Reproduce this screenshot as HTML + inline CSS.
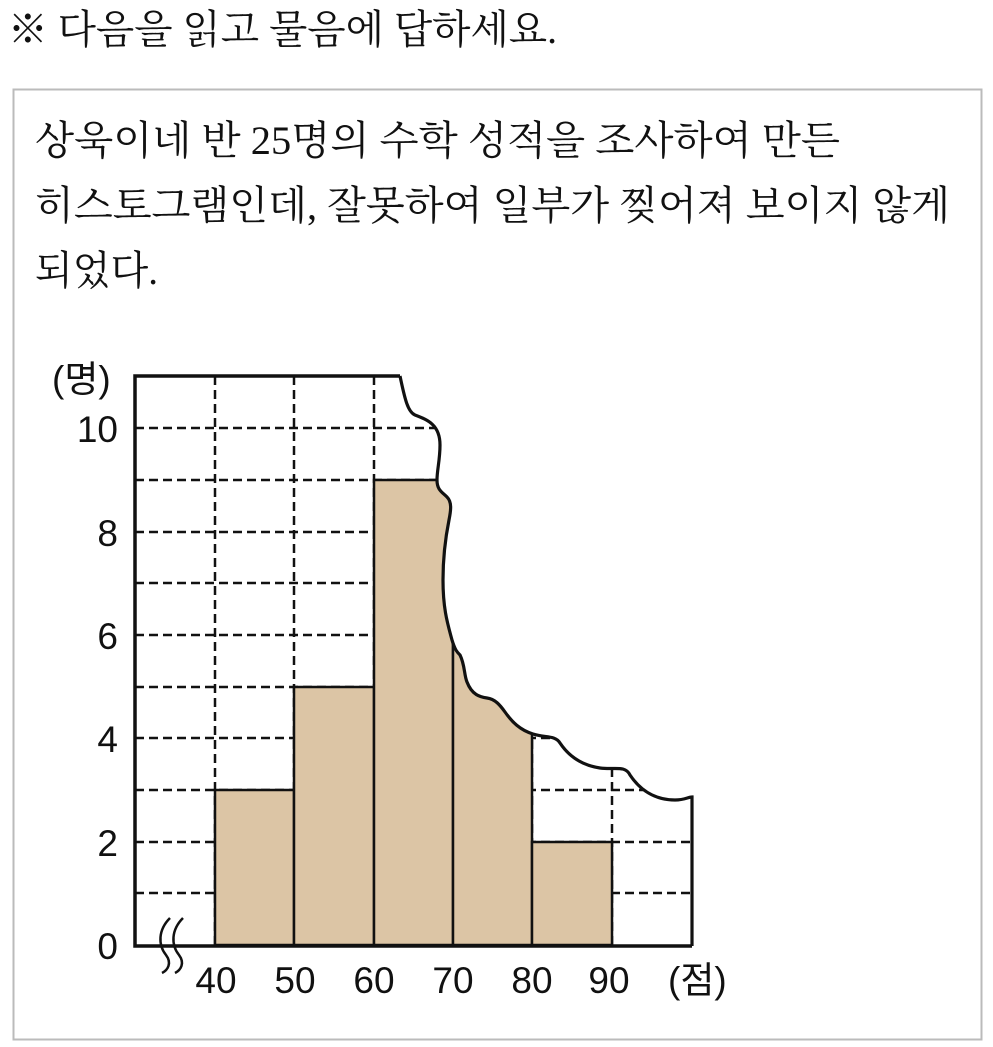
<!DOCTYPE html>
<html><head><meta charset="utf-8"><style>
html,body{margin:0;padding:0;background:#fff;}
svg{display:block;}
.k{font-family:"Liberation Serif","Noto Serif CJK SC","Noto Serif CJK KR",serif;font-size:40px;fill:#111;}
.n{font-family:"Liberation Sans","Noto Sans CJK KR",sans-serif;font-size:37px;fill:#111;}
</style></head><body>
<svg width="993" height="1047" viewBox="0 0 993 1047" xmlns="http://www.w3.org/2000/svg">
<text class="k" x="8" y="43" textLength="549" lengthAdjust="spacingAndGlyphs">※ 다음을 읽고 물음에 답하세요.</text>
<rect x="13.5" y="89.5" width="968" height="950" fill="none" stroke="#bbb" stroke-width="2"/>
<text class="k" x="35" y="154" textLength="805" lengthAdjust="spacingAndGlyphs">상욱이네 반 25명의 수학 성적을 조사하여 만든</text>
<text class="k" x="35" y="219" textLength="915" lengthAdjust="spacingAndGlyphs">히스토그램인데, 잘못하여 일부가 찢어져 보이지 않게</text>
<text class="k" x="35" y="284" textLength="123" lengthAdjust="spacingAndGlyphs">되었다.</text>
<defs>
<clipPath id="c"><path d="M135,376 L400,376 C405,400 408,412 415,415 C428,420 440,425 440,445 C440,460 437,470 437,480 C437,490 442,492 447,497 C452,502 451,510 449,520 C446,535 443,555 443,580 C443,610 448,625 452,640 C455,650 457,652 460,655 C465,665 464,675 467,682 C472,695 480,697 487,698 C495,699 500,705 505,712 C512,722 520,730 533,734 C545,738 555,735 560,743 C568,755 580,765 600,768 C615,770 625,765 630,775 C640,790 655,800 675,800 C685,800 688,797 692,797 L692,945 L135,945 Z"/></clipPath>
</defs>
<g clip-path="url(#c)">
<g stroke="#111" stroke-width="2.5" stroke-dasharray="9,5" fill="none">
<path d="M135,893H692M135,842H692M135,790H692M135,738H692M135,687H692M135,635H692M135,583H692M135,532H692M135,480H692M135,428H692"/>
<path d="M215,376V945M294,376V945M374,376V945M453,376V945M532,376V945M612,376V945"/>
</g>
<g fill="#dcc5a5" stroke="#111" stroke-width="2.5">
<rect x="215" y="790" width="79" height="155"/>
<rect x="294" y="687" width="80" height="258"/>
<rect x="374" y="480" width="79" height="465"/>
<rect x="453" y="300" width="79" height="645"/>
<rect x="532" y="842" width="80" height="103"/>
</g>
</g>
<path d="M400,376 C405,400 408,412 415,415 C428,420 440,425 440,445 C440,460 437,470 437,480 C437,490 442,492 447,497 C452,502 451,510 449,520 C446,535 443,555 443,580 C443,610 448,625 452,640 C455,650 457,652 460,655 C465,665 464,675 467,682 C472,695 480,697 487,698 C495,699 500,705 505,712 C512,722 520,730 533,734 C545,738 555,735 560,743 C568,755 580,765 600,768 C615,770 625,765 630,775 C640,790 655,800 675,800 C685,800 688,797 692,797 L692,946" fill="none" stroke="#111" stroke-width="3.2"/>
<path d="M400,376H135V946H692" fill="none" stroke="#111" stroke-width="3.5"/>
<path d="M170,918 C158,930 158,945 166,955 C172,963 168,970 162,973 M183,918 C171,930 171,945 179,955 C185,963 181,970 175,973" fill="none" stroke="#111" stroke-width="2.5"/>
<g class="n" text-anchor="end">
<text x="118" y="442">10</text>
<text x="118" y="546">8</text>
<text x="118" y="649">6</text>
<text x="118" y="752">4</text>
<text x="118" y="856">2</text>
<text x="118" y="959">0</text>
</g>
<text class="n" x="52" y="392">(명)</text>
<g class="n" text-anchor="middle">
<text x="216" y="993">40</text>
<text x="295" y="993">50</text>
<text x="374" y="993">60</text>
<text x="453" y="993">70</text>
<text x="532" y="993">80</text>
<text x="609" y="993">90</text>
</g>
<text class="n" x="668" y="993">(점)</text>
</svg>
</body></html>
